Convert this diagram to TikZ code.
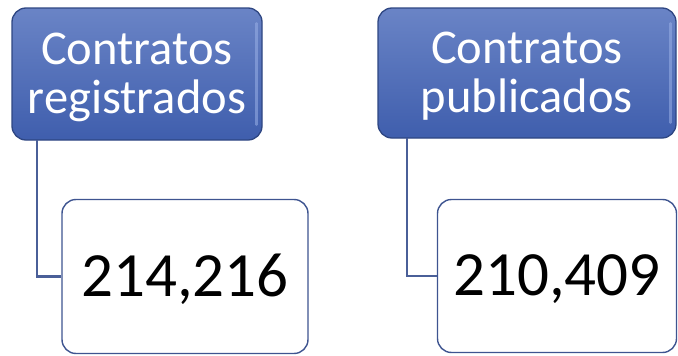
\documentclass[tikz,border=0pt]{standalone}
\usepackage{fontspec}
\setmainfont{Carlito}
\usetikzlibrary{positioning}
\definecolor{bluetop}{HTML}{6A84C6}
\definecolor{bluebot}{HTML}{3F5EAD}
\definecolor{blueedge}{HTML}{2E4682}
\definecolor{bluelight}{HTML}{9AB0E6}
\definecolor{whiteedge}{HTML}{3E5490}
\definecolor{linkcol}{HTML}{4A5F98}
\tikzset{
  headbox/.style={rounded corners=14pt, draw=blueedge, line width=1.3pt,
    top color=bluetop, bottom color=bluebot, inner sep=0pt},
  headtext/.style={text=white, align=center, inner sep=0pt,
    font=\fontsize{48.5}{49}\selectfont},
  valbox/.style={rounded corners=14pt, draw=whiteedge, line width=1.4pt,
    fill=white, inner sep=0pt},
  valtext/.style={text=black, align=center, inner sep=0pt,
    font=\fontsize{63}{63}\selectfont},
  link/.style={draw=linkcol, line width=2.2pt}
}
\begin{document}
\begin{tikzpicture}[x=1pt,y=-1pt]
\useasboundingbox (0,0) rectangle (678,356);
% blue header boxes
\node[headbox, minimum width=250pt, minimum height=132pt] (h1) at (137,74) {};
\node[headbox, minimum width=298pt, minimum height=130pt] (h2) at (527,73) {};
% bevel highlights
\draw[bluelight, line width=2.5pt, line cap=round, opacity=0.55] ([xshift=-6pt,yshift=-16pt]h1.north east) -- ([xshift=-6pt,yshift=16pt]h1.south east);
\draw[bluelight, line width=2.5pt, line cap=round, opacity=0.55] ([xshift=-6pt,yshift=-16pt]h2.north east) -- ([xshift=-6pt,yshift=16pt]h2.south east);
\node[headtext] (t1) at ([yshift=-3pt]h1.center) {Contratos\\registrados};
\node[headtext] (t2) at ([yshift=-3pt]h2.center) {Contratos\\publicados};
% white value boxes
\node[valbox, minimum width=246pt, minimum height=154pt] (v1) at (185,276.5) {};
\node[valbox, minimum width=239pt, minimum height=153pt] (v2) at (557,276) {};
\node[valtext] (n1) at ([yshift=-3pt]v1.center) {214,216};
\node[valtext] (n2) at ([yshift=-3pt]v2.center) {210,409};
% connectors
\coordinate (c1) at (37,140);
\coordinate (c2) at (407,138);
\draw[link] (c1) |- (v1.west);
\draw[link] (c2) |- (v2.west);
\end{tikzpicture}
\end{document}
